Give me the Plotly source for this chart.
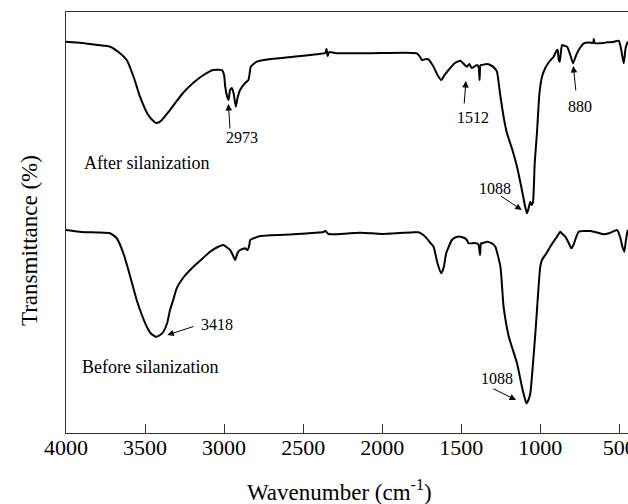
import plotly.graph_objects as go

# After silanization spectrum (wavenumber cm-1, transmittance arbitrary units)
after_wn = [4000, 3900, 3800, 3721, 3660, 3616, 3570, 3532, 3480, 3440, 3426, 3400, 3342, 3260, 3196,
            3130, 3069, 3014, 3000, 2993, 2980, 2972, 2962, 2951, 2940, 2926, 2915, 2899, 2867, 2846,
            2838, 2831, 2793, 2700, 2563, 2400, 2360, 2352, 2345, 2335, 2300, 2139, 2000, 1780, 1760,
            1749, 1720, 1707, 1690, 1675, 1650, 1626, 1605, 1580, 1540, 1506, 1490, 1464, 1450, 1433,
            1400, 1390, 1384, 1378, 1369, 1340, 1316, 1290, 1274, 1255, 1232, 1211, 1180, 1147, 1116,
            1095, 1084, 1072, 1063, 1055, 1046, 1035, 1021, 1005, 989, 968, 940, 915, 895, 890,
            883, 877, 870, 862, 845, 830, 810, 793, 775, 757, 725, 690, 665, 662, 655,
            600, 577, 540, 504, 490, 472, 460, 447]
after_t = [391.3, 390, 388, 386.3, 380, 373, 355, 336.3, 318, 311, 310, 312, 323, 340, 350,
           358, 363, 363, 358, 346.3, 336, 333, 343, 345, 340, 326.3, 335, 343, 350, 353,
           360, 366.3, 371.3, 374, 376.3, 379, 380, 384, 377, 381, 380, 379.7, 380, 379.7, 376,
           373, 374, 373.7, 370, 366.3, 358, 353, 358, 363, 370, 372.3, 370, 366.3, 369, 365,
           368, 366, 353, 368, 368, 369, 368, 365, 361.3, 340, 316.3, 300, 285, 266.3, 243,
           226, 219.7, 226, 231.3, 228, 231, 270, 300, 340, 356.3, 365, 372, 376.3, 383, 383,
           373, 371.3, 380, 388, 387, 386.3, 378, 369.7, 377, 383, 389.7, 390.5, 390, 394, 390,
           390, 390.7, 391, 392.3, 385, 369.7, 385, 391.3]

# Before silanization spectrum
before_wn = [4000, 3900, 3800, 3721, 3680, 3637, 3600, 3553, 3520, 3489, 3460, 3430, 3405, 3384, 3360,
             3342, 3320, 3300, 3250, 3194, 3140, 3089, 3040, 3004, 2985, 2962, 2945, 2930, 2915, 2899,
             2867, 2852, 2840, 2835, 2772, 2561, 2400, 2370, 2360, 2340, 2308, 2139, 2000, 1800, 1771,
             1740, 1718, 1695, 1675, 1650, 1626, 1610, 1595, 1559, 1530, 1506, 1480, 1464, 1453, 1420,
             1400, 1390, 1381, 1375, 1368, 1336, 1300, 1284, 1252, 1232, 1199, 1147, 1116, 1100, 1088,
             1075, 1063, 1031, 1000, 989, 960, 937, 900, 873, 860, 842, 820, 804, 790, 779,
             757, 720, 683, 640, 599, 560, 514, 495, 480, 468, 458, 447]
before_t = [203, 201, 200.5, 199.7, 195, 179.7, 160, 133, 118, 106.3, 99, 96.3, 98, 101.3, 110,
            123, 134, 144.7, 157, 166.3, 174, 181.3, 186, 188, 186, 183, 178, 173, 180, 183,
            184.7, 183, 188, 193, 197, 198.7, 200.5, 201, 202.3, 199, 198.7, 200.3, 199, 200.7, 200.7,
            198, 194.7, 190, 186.3, 169.7, 159.7, 166, 179.7, 193, 196, 196.3, 195, 193, 189.7, 190,
            189.7, 188, 178, 189.7, 189.7, 191.3, 189, 186.3, 166.3, 126.3, 96.3, 69.7, 46.3, 36, 29.7,
            33, 39.7, 99.7, 166.3, 173, 180, 186.3, 195, 201.3, 199, 196.3, 190, 184.7, 188, 193,
            201.3, 202, 202, 200.5, 198.7, 200, 203, 196, 186, 181.3, 193, 203]

tick_vals = [4000, 3500, 3000, 2500, 2000, 1500, 1000, 500]
tick_text = ["4000", "3500", "3000", "2500", "2000", "1500", "1000", "500"]

FONT = "Liberation Serif"

fig = go.Figure()
for wn, t in [(after_wn, after_t), (before_wn, before_t)]:
    fig.add_trace(go.Scatter(x=wn, y=t, mode="lines",
                             line=dict(color="black", width=2, shape="spline", smoothing=0.5),
                             showlegend=False, hoverinfo="skip"))

# peak annotations: (label, text x, text y, arrow head x, head y, tail x, tail y)
peaks = [
    ("2973", 2888, 296, 2973, 329, 2962, 303),
    ("1512", 1423, 316, 1470, 352, 1482, 328),
    ("880", 748, 327, 791, 367, 774, 341),
    ("1088", 1286, 245, 1117, 223, 1259, 238),
    ("3418", 3047, 109, 3359, 98, 3184, 107),
    ("1088", 1272, 55, 1153, 33, 1307, 45),
]
for label, tx, ty, hx, hy, ax, ay in peaks:
    fig.add_annotation(x=hx, y=hy, ax=ax, ay=ay, axref="x", ayref="y", text="",
                       showarrow=True, arrowhead=2, arrowsize=1.3, arrowwidth=1, arrowcolor="black")
    fig.add_annotation(x=tx, y=ty, text=label, showarrow=False,
                       font=dict(family=FONT, size=16, color="black"))

fig.add_annotation(x=3901, y=270, text="After silanization", showarrow=False, xanchor="left",
                   font=dict(family=FONT, size=18, color="black"))
fig.add_annotation(x=3911, y=66, text="Before silanization", showarrow=False, xanchor="left",
                   font=dict(family=FONT, size=18, color="black"))

# axis titles
fig.add_annotation(xref="paper", yref="paper", x=0.4875, y=-0.1354, xanchor="center", yanchor="middle",
                   text="Wavenumber (cm<sup>-1</sup>)", showarrow=False,
                   font=dict(family=FONT, size=23, color="black"))
fig.add_annotation(xref="paper", yref="paper", x=-0.0658, y=0.456, xanchor="center", yanchor="middle",
                   textangle=-90, text="Transmittance (%)", showarrow=False,
                   font=dict(family=FONT, size=23, color="black"))

fig.update_layout(
    width=628, height=504,
    margin=dict(l=66, r=0, t=12, b=71, autoexpand=False),
    paper_bgcolor="white", plot_bgcolor="white",
    font=dict(family=FONT, color="black"),
    xaxis=dict(range=[4000, 445], tickvals=tick_vals, ticktext=tick_text,
               ticks="inside", ticklen=9, tickwidth=1.2, tickcolor="#333",
               showline=True, linecolor="#333", linewidth=1.2, mirror=True,
               showgrid=False, zeroline=False, automargin=False,
               ticklabeloverflow="allow", ticklabelstandoff=-6,
               tickfont=dict(family=FONT, size=22, color="black")),
    yaxis=dict(range=[0, 421], showticklabels=False, ticks="",
               showline=True, linecolor="#333", linewidth=1.2, mirror=False,
               showgrid=False, zeroline=False, automargin=False),
)

fig.write_html("out.html", config={"displayModeBar": False},
               post_script="document.body.style.margin='0';document.body.style.overflow='hidden';")
